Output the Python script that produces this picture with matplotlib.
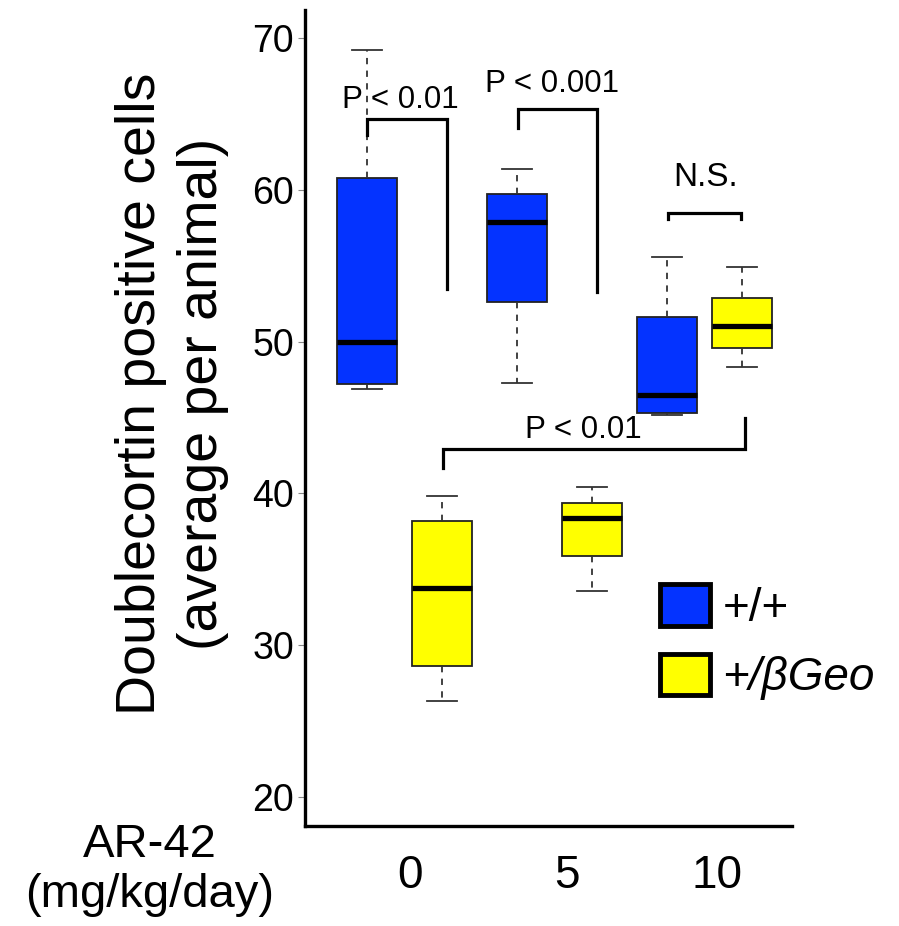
import matplotlib
matplotlib.use("Agg")
import matplotlib.pyplot as plt
from matplotlib.patches import Patch

plt.rcParams["font.family"] = ["Liberation Sans", "DejaVu Sans"]

# dose groups (AR-42 mg/kg/day)
doses = ["0", "5", "10"]

# +/+ (blue) box statistics per dose
wt_whislo = [46.9, 47.3, 45.2]
wt_q1 = [47.2, 52.6, 45.3]
wt_med = [50.0, 57.9, 46.5]
wt_q3 = [60.8, 59.7, 51.6]
wt_whishi = [69.2, 61.4, 55.6]

# +/βGeo (yellow) box statistics per dose
het_whislo = [26.3, 33.6, 48.3]
het_q1 = [28.6, 35.9, 49.6]
het_med = [33.8, 38.4, 51.0]
het_q3 = [38.2, 39.4, 52.9]
het_whishi = [39.8, 40.4, 54.9]

BLUE = "#0433FF"
YELLOW = "#FFFF00"


def make_stats(lo, q1, med, q3, hi):
    return [dict(whislo=a, q1=b, med=c, q3=d, whishi=e, fliers=[])
            for a, b, c, d, e in zip(lo, q1, med, q3, hi)]


def draw_boxes(ax, stats, positions, color):
    ax.bxp(
        stats,
        positions=positions,
        widths=0.8,
        patch_artist=True,
        showfliers=False,
        capwidths=0.4,
        boxprops=dict(facecolor=color, edgecolor="#222222", linewidth=1.3),
        medianprops=dict(color="black", linewidth=3.8, solid_capstyle="butt"),
        whiskerprops=dict(color="#333333", linewidth=1.3, linestyle=(0, (3.5, 3.5))),
        capprops=dict(color="#333333", linewidth=1.3),
    )


def bracket(ax, x1, x2, y, y1_end, y2_end):
    ax.plot([x1, x1, x2, x2], [y1_end, y, y, y2_end], color="black",
            linewidth=2.3, solid_joinstyle="miter", clip_on=False)


fig = plt.figure(figsize=(8.99, 9.26), dpi=100)
ax = fig.add_axes([305 / 899, 1 - 826 / 926, 487 / 899, 816 / 926])

wt_pos = [1, 3, 5]
het_pos = [2, 4, 6]
draw_boxes(ax, make_stats(wt_whislo, wt_q1, wt_med, wt_q3, wt_whishi), wt_pos, BLUE)
draw_boxes(ax, make_stats(het_whislo, het_q1, het_med, het_q3, het_whishi), het_pos, YELLOW)

ax.set_xlim(0.173, 6.667)
ax.set_ylim(18.09, 71.85)

ax.set_yticks([20, 30, 40, 50, 60, 70])
ax.tick_params(axis="y", labelsize=27, length=5, width=0.8, color="#888888", pad=3)
ax.set_xticks([1.57, 3.67, 5.67])
ax.set_xticklabels(doses)
ax.tick_params(axis="x", labelsize=33, length=0, pad=20)

for s in ["top", "right"]:
    ax.spines[s].set_visible(False)
for s in ["left", "bottom"]:
    ax.spines[s].set_linewidth(2.4)

# significance brackets
bracket(ax, 1.0, 2.07, 64.67, 63.6, 53.5)
ax.text(1.45, 65.9, "P < 0.01", fontsize=22.5, ha="center", va="center")
bracket(ax, 3.01, 4.07, 65.3, 64.1, 53.3)
ax.text(3.47, 67.0, "P < 0.001", fontsize=22.5, ha="center", va="center")
bracket(ax, 5.01, 5.99, 58.5, 58.1, 58.1)
ax.text(5.51, 60.8, "N.S.", fontsize=24, ha="center", va="center")
bracket(ax, 2.01, 6.04, 42.9, 41.7, 45.0)
ax.text(3.89, 44.2, "P < 0.01", fontsize=22.5, ha="center", va="center")

# legend
handles = [
    Patch(facecolor=BLUE, edgecolor="black", linewidth=3.5, joinstyle="round"),
    Patch(facecolor=YELLOW, edgecolor="black", linewidth=3.5, joinstyle="round"),
]
leg = ax.legend(handles, ["+/+", "+/βGeo"], loc="upper left",
                bbox_to_anchor=((660 - 305) / 487, (826 - 584) / 816),
                frameon=False, fontsize=33, handlelength=1.08, handleheight=1.03,
                handletextpad=0.28, labelspacing=0.5, borderpad=0, borderaxespad=0)
leg.get_texts()[1].set_style("italic")

# axis titles
fig.text(172 / 899, 1 - 394 / 926, "Doublecortin positive cells\n(average per animal)",
         rotation=90, ha="center", va="center", fontsize=40, linespacing=1.25,
         multialignment="center")
fig.text(150 / 899, 1 - 845 / 926, "AR-42", ha="center", va="center", fontsize=34)
fig.text(150 / 899, 1 - 895 / 926, "(mg/kg/day)", ha="center", va="center", fontsize=34)

fig.savefig("out.png", dpi=100)
